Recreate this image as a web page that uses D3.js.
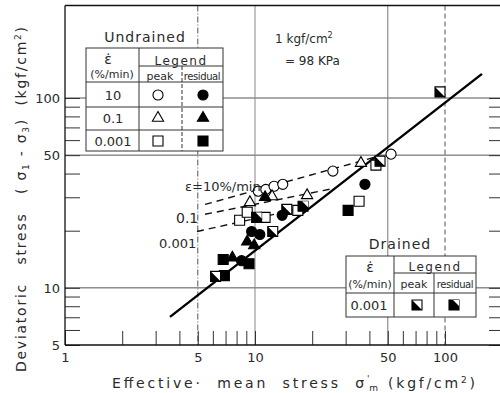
<!doctype html>
<html>
<head>
<meta charset="utf-8">
<title>Deviatoric stress vs effective mean stress</title>
<style>
  body { margin: 0; background: #fff; }
  svg { display: block; font-family: "DejaVu Sans", sans-serif; }
  text { fill: #2a2a2a; white-space: pre; }
</style>
</head>
<body>
<div id="here"></div>
<script src="https://d3js.org/d3.v7.min.js"></script>
<script>
// values: [mean stress, deviatoric stress] in kgf/cm2
var und10Peak   = [[10.4, 32.3], [11.4, 33.0], [12.6, 34.3], [14.0, 35.1], [25.7, 41.2], [52.0, 50.6]];
var und10Res    = [[9.6, 19.8], [10.6, 19.1], [8.5, 13.9], [13.9, 24.1], [37.9, 35.1]];
var und01Peak   = [[9.4, 28.2], [12.3, 30.3], [18.8, 30.7], [36.1, 45.4]];
var und01Res    = [[11.3, 30.0], [9.1, 17.5], [7.6, 14.4], [9.9, 16.7]];
var und0001Peak = [[8.3, 22.7], [9.1, 25.0], [11.3, 23.5], [16.8, 25.6], [35.3, 28.6], [43.3, 44.3]];
var und0001Res  = [[6.8, 14.1], [9.3, 13.4], [6.9, 11.6], [30.9, 25.6]];
var drainedPeak = [[6.2, 11.5], [12.4, 19.8], [14.7, 25.9], [45.5, 46.5], [94.1, 107.7]];
var drainedRes  = [[10.2, 23.5], [17.9, 26.9]];

// fitted lines
var drainedLine = [[3.57, 7.03], [156.6, 134]];
var line10   = [[5.46, 27.5], [42.8, 48.8]];
var line01   = [[5.46, 24.4], [26.4, 33.5]];
var line0001 = [[4.95, 19.8], [18.3, 26.5]];

var xTicks = [1, 2, 3, 4, 5, 6, 7, 8, 9, 10, 20, 30, 40, 50, 60, 70, 80, 90, 100];
var xLabels = [1, 5, 10, 50, 100];
var yTicks = [5, 6, 7, 8, 9, 10, 20, 30, 40, 50, 60, 70, 80, 90, 100];
var yLabels = [5, 10, 50, 100];
var rates = ["10", "0.1", "0.001"];

var W = 500, H = 393;
var x = d3.scaleLog().domain([1, 100]).range([65, 445]);
var y = d3.scaleLog().domain([5, 100]).range([345, 98]);
var xEnd = x(200), yTop = y(307);

var svg = d3.select("#here").append("svg").attr("width", W).attr("height", H);

// grid
var grid = svg.append("g").attr("stroke", "#555").attr("stroke-width", 1).attr("fill", "none");
[10, 50, 100].forEach(function(v) {
  grid.append("line").attr("x1", x(1)).attr("x2", xEnd).attr("y1", y(v)).attr("y2", y(v));
});
grid.append("line").attr("x1", x(5)).attr("x2", x(5)).attr("y1", yTop).attr("y2", y(5)).attr("stroke-dasharray", "6,2,1,2");
grid.append("line").attr("x1", x(10)).attr("x2", x(10)).attr("y1", yTop).attr("y2", y(5)).attr("stroke", "#888");
grid.append("line").attr("x1", x(50)).attr("x2", x(50)).attr("y1", yTop).attr("y2", y(5)).attr("stroke", "#777");
grid.append("line").attr("x1", x(100)).attr("x2", x(100)).attr("y1", yTop).attr("y2", y(5)).attr("stroke-dasharray", "5,3");

// axes
var fx = function(d) { return xLabels.indexOf(d) >= 0 ? d : ""; };
var fy = function(d) { return yLabels.indexOf(d) >= 0 ? d : ""; };

var ax = svg.append("g").attr("transform", "translate(0,345)")
  .call(d3.axisBottom(x).tickValues(xTicks).tickFormat(fx).tickSize(-14).tickPadding(8));
var ay = svg.append("g").attr("transform", "translate(65,0)")
  .call(d3.axisLeft(y).tickValues(yTicks).tickFormat(fy).tickSize(-15).tickPadding(5));
var ar = svg.append("g").attr("transform", "translate(" + (W) + ",0)")
  .call(d3.axisRight(y).tickValues(yTicks).tickFormat("").tickSize(-11));
[ax, ay, ar].forEach(function(a) {
  a.select(".domain").remove();
  a.selectAll("line").attr("stroke", "#333");
  a.selectAll("text").attr("font-size", 13).attr("font-family", "DejaVu Sans").attr("fill", "#2a2a2a");
});
ax.selectAll("text").filter(function(d) { return d === 1; }).attr("fill", "#999");

// frame
var frame = svg.append("g").attr("stroke", "#111").attr("stroke-width", 1.3);
frame.append("line").attr("x1", x(1)).attr("x2", x(1)).attr("y1", yTop).attr("y2", y(5));
frame.append("line").attr("x1", x(1)).attr("x2", xEnd).attr("y1", y(5)).attr("y2", y(5));
frame.append("line").attr("x1", x(1)).attr("x2", xEnd).attr("y1", yTop).attr("y2", yTop);

// lines
var lineGen = d3.line().x(function(d) { return x(d[0]); }).y(function(d) { return y(d[1]); });
svg.append("path").attr("d", lineGen(drainedLine)).attr("stroke", "#000").attr("stroke-width", 2.4).attr("fill", "none");
[line10, line01, line0001].forEach(function(l) {
  svg.append("path").attr("d", lineGen(l)).attr("stroke", "#111").attr("stroke-width", 1.4)
    .attr("stroke-dasharray", "7,5").attr("fill", "none");
});

// symbols
var circ = d3.symbol().type(d3.symbolCircle).size(80)();
var tri = d3.symbol().type(d3.symbolTriangle).size(55)();
var sq = d3.symbol().type(d3.symbolSquare).size(100)();
var halfPeak = "M-5,-5L5,5H-5Z";
var halfRes = "M-1,-5H5V1Z";

function drawSym(g, pathD, open) {
  g.append("path").attr("d", pathD).attr("fill", open ? "#fff" : "#000").attr("stroke", "#000").attr("stroke-width", 1.1);
}
function drawDrained(g, peak) {
  if (peak) {
    g.append("path").attr("d", sq).attr("fill", "#fff").attr("stroke", "#000").attr("stroke-width", 1.1);
    g.append("path").attr("d", halfPeak).attr("fill", "#000");
  } else {
    g.append("path").attr("d", sq).attr("fill", "#000").attr("stroke", "#000").attr("stroke-width", 1.1);
    g.append("path").attr("d", halfRes).attr("fill", "#fff");
  }
}
function plot(data, fn) {
  svg.append("g").selectAll("g").data(data).enter().append("g")
    .attr("transform", function(d) { return "translate(" + x(d[0]) + "," + y(d[1]) + ")"; })
    .each(function() { fn(d3.select(this)); });
}
plot(und10Peak, function(g) { drawSym(g, circ, true); });
plot(und01Peak, function(g) { drawSym(g, tri, true); });
plot(und0001Peak, function(g) { drawSym(g, sq, true); });
plot(und10Res, function(g) { drawSym(g, circ, false); });
plot(und01Res, function(g) { drawSym(g, tri, false); });
plot(und0001Res, function(g) { drawSym(g, sq, false); });
plot(drainedPeak, function(g) { drawDrained(g, true); });
plot(drainedRes, function(g) { drawDrained(g, false); });

// line labels
function txt(xp, yp, s, size, anchor) {
  return svg.append("text").attr("x", xp).attr("y", yp).attr("font-size", size || 13)
    .attr("text-anchor", anchor || "start").text(s);
}
var eps = txt(185, 191, "", 13);
eps.append("tspan").text("ε=10%/min");
txt(176, 223, "0.1", 14);
txt(159, 248, "0.001", 13);

txt(275, 43, "1 kgf/cm", 12).append("tspan").attr("dy", -5).attr("font-size", 8).text("2");
txt(285, 65, "= 98 KPa", 12);

// undrained legend
var L = svg.append("g");
L.append("rect").attr("x", 86).attr("y", 48).attr("width", 137).attr("height", 103)
  .attr("fill", "#fff").attr("stroke", "#333");
var ls = L.append("g").attr("stroke", "#333").attr("stroke-width", 1);
ls.append("line").attr("x1", 139).attr("x2", 139).attr("y1", 48).attr("y2", 151);
ls.append("line").attr("x1", 182).attr("x2", 182).attr("y1", 66).attr("y2", 151).attr("stroke-dasharray", "4,2");
ls.append("line").attr("x1", 139).attr("x2", 223).attr("y1", 66).attr("y2", 66);
[82, 107, 130].forEach(function(v) { ls.append("line").attr("x1", 86).attr("x2", 223).attr("y1", v).attr("y2", v); });
txt(145, 42, "Undrained", 14, "middle").attr("letter-spacing", 1);
txt(108, 64, "ε̇", 14, "middle");
txt(112, 78, "(%/min)", 11, "middle");
txt(181, 65, "Legend", 12, "middle").attr("letter-spacing", 1.5);
txt(160, 80, "peak", 11, "middle");
txt(202, 80, "residual", 10, "middle").attr("letter-spacing", -0.4);
var rowY = [95, 118, 141];
var legSyms = [circ, tri, sq];
rates.forEach(function(r, i) {
  txt(113, rowY[i] + 5, r, 13, "middle");
  var g1 = L.append("g").attr("transform", "translate(158," + rowY[i] + ")");
  drawSym(g1, legSyms[i], true);
  var g2 = L.append("g").attr("transform", "translate(203," + rowY[i] + ")");
  drawSym(g2, legSyms[i], false);
});

// drained legend
var D = svg.append("g");
D.append("rect").attr("x", 346).attr("y", 256).attr("width", 130).attr("height", 61)
  .attr("fill", "#fff").attr("stroke", "#333");
var ds = D.append("g").attr("stroke", "#333").attr("stroke-width", 1);
ds.append("line").attr("x1", 394).attr("x2", 394).attr("y1", 256).attr("y2", 317);
ds.append("line").attr("x1", 434).attr("x2", 434).attr("y1", 273).attr("y2", 317);
ds.append("line").attr("x1", 394).attr("x2", 476).attr("y1", 273).attr("y2", 273);
ds.append("line").attr("x1", 346).attr("x2", 476).attr("y1", 293).attr("y2", 293);
txt(400, 249, "Drained", 14, "middle").attr("letter-spacing", 1);
txt(370, 272, "ε̇", 14, "middle");
txt(370, 288, "(%/min)", 11, "middle");
txt(435, 271, "Legend", 12, "middle").attr("letter-spacing", 1.5);
txt(414, 288, "peak", 11, "middle");
txt(455, 288, "residual", 10, "middle").attr("letter-spacing", -0.4);
txt(369, 310, rates[2], 13, "middle");
drawDrained(D.append("g").attr("transform", "translate(417,305)"), true);
drawDrained(D.append("g").attr("transform", "translate(454,305)"), false);

// axis titles
var xt = svg.append("text").attr("x", 112).attr("y", 388).attr("font-size", 14)
  .attr("textLength", 363).attr("lengthAdjust", "spacing");
xt.append("tspan").text("Effective·  mean  stress  σ");
xt.append("tspan").attr("dy", -6).attr("font-size", 9).text("'");
xt.append("tspan").attr("dy", 9).attr("dx", -3).attr("font-size", 9).text("m");
xt.append("tspan").attr("dy", -3).text(" (kgf/cm");
xt.append("tspan").attr("dy", -5).attr("font-size", 9).text("2");
xt.append("tspan").attr("dy", 5).text(")");

var yt = svg.append("text").attr("transform", "translate(26,372) rotate(-90)").attr("font-size", 14)
  .attr("textLength", 345).attr("lengthAdjust", "spacing");
yt.append("tspan").text("Deviatoric   stress   ( σ");
yt.append("tspan").attr("dy", 3).attr("font-size", 9).text("1");
yt.append("tspan").attr("dy", -3).text(" - σ");
yt.append("tspan").attr("dy", 3).attr("font-size", 9).text("3");
yt.append("tspan").attr("dy", -3).text(")  (kgf/cm");
yt.append("tspan").attr("dy", -5).attr("font-size", 9).text("2");
yt.append("tspan").attr("dy", 5).text(")");
</script>
</body>
</html>
